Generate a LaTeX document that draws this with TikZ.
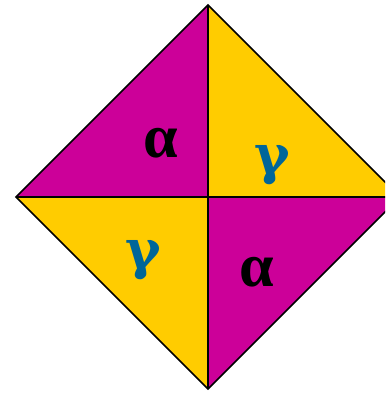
\documentclass[tikz,border=0pt]{standalone}
\usepackage{fontspec}
\setmainfont{Liberation Serif}
\newfontfamily\gamfont{DejaVu Serif}
\usetikzlibrary{calc}
\definecolor{quadmag}{HTML}{CC0099}
\definecolor{quadyel}{HTML}{FFCC00}
\definecolor{gamblue}{HTML}{006699}
\begin{document}
\begin{tikzpicture}[x=1pt,y=1pt,
  edge/.style={draw=black,line width=1.6pt,line join=miter},
  glyph/.style={font=\bfseries\fontsize{62}{74}\selectfont,anchor=base,inner sep=0pt},
  gglyph/.style={font=\gamfont\bfseries\fontsize{54}{64}\selectfont,anchor=base,inner sep=0pt,text=gamblue}]
\useasboundingbox (0,0) rectangle (385,393);
\fill[white] (0,0) rectangle (385,393);
\clip (0,0) rectangle (385,393);
% corners of the diamond
\coordinate (ctr) at (208,196);
\coordinate (top) at (208,388);
\coordinate (lft) at (16,196);
\coordinate (bot) at (208,4);
\coordinate (rgt) at (400,196);
% quarters
\fill[quadmag] (ctr) -- (lft) -- (top) -- cycle;
\fill[quadyel] (ctr) -- (top) -- (rgt) -- cycle;
\fill[quadyel] (ctr) -- (lft) -- (bot) -- cycle;
\fill[quadmag] (ctr) -- (bot) -- (rgt) -- cycle;
\draw[edge] (top) -- (rgt) -- (bot) -- (lft) -- cycle;
\draw[edge] (top) -- (bot);
\draw[edge] (lft) -- (rgt);
% letters
\node[glyph,text=black] (alphaA) at (161,235) {α};
\node[gglyph] (gammaA) at (272,219) {γ};
\node[gglyph] (gammaB) at (143,124) {γ};
\node[glyph,text=black] (alphaB) at (257,106) {α};
\end{tikzpicture}
\end{document}
